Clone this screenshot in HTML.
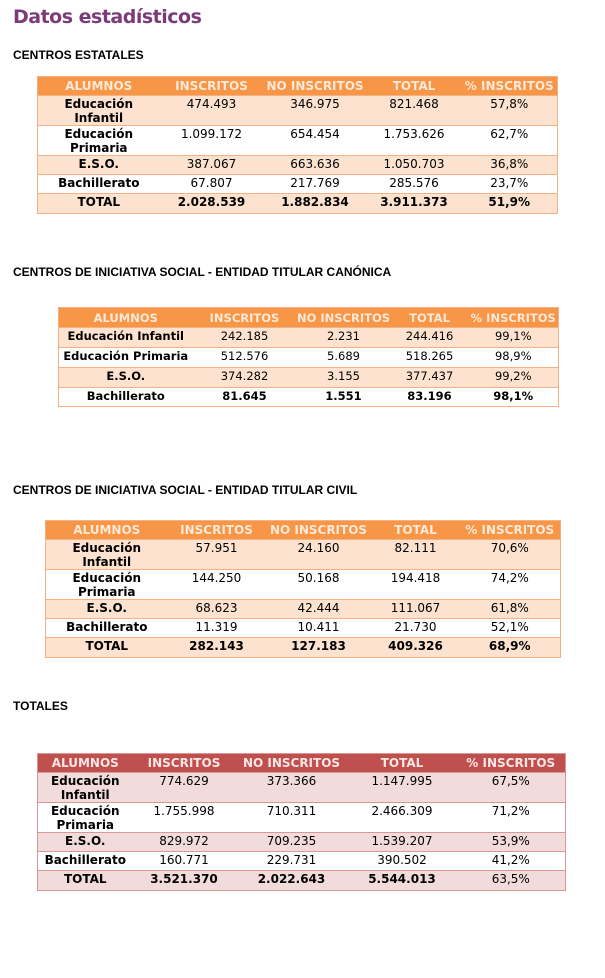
<!DOCTYPE html>
<html><head><meta charset="utf-8"><style>
body{margin:0;width:605px;height:978px;background:#fff;position:relative;font-family:"DejaVu Sans","Liberation Sans",sans-serif;color:#000;overflow:hidden}
.t{position:absolute;margin:0;font-weight:bold}
h1.t{left:13px;top:6px;font-size:19px;color:#7a3b78;font-family:"DejaVu Sans",sans-serif;letter-spacing:-0.5px}
h2.t{left:13px;font-size:12px;font-family:"Liberation Sans",sans-serif;letter-spacing:0}
table{position:absolute;border-collapse:collapse;table-layout:fixed;font-size:12px}
td{text-align:center;vertical-align:top;padding:1px 0 0;line-height:14px;border-top:1px solid #f4b183;overflow:hidden;white-space:nowrap}
table.o{border:1px solid #f4b183}
table.o tr.h td{background:#f79646;color:#fde9d9;font-weight:bold;vertical-align:middle;padding:0}
table.o tr.a td{background:#fde3cf}
table.r{border:1px solid #d99795}
table.r td{border-top:1px solid #d99795}
table.r tr.h td{background:#c0504d;color:#fbe5e5;font-weight:bold;vertical-align:middle;padding:0}
table.r tr.a td{background:#f2dcdb}
td:first-child{font-weight:bold}
.b td{font-weight:bold}
</style></head><body>
<h1 class="t">Datos estadísticos</h1>
<h2 class="t" style="top:48px">CENTROS ESTATALES</h2>
<table class="o" style="left:37px;top:76px;width:520px">
<colgroup><col style="width:122px"><col style="width:104px"><col style="width:103px"><col style="width:95px"><col style="width:96px"></colgroup>
<tr class="h" style="height:19px"><td>ALUMNOS</td><td>INSCRITOS</td><td>NO INSCRITOS</td><td>TOTAL</td><td>% INSCRITOS</td></tr>
<tr class="a" style="height:28px"><td>Educación<br>Infantil</td><td>474.493</td><td>346.975</td><td>821.468</td><td>57,8%</td></tr>
<tr style="height:28px"><td>Educación<br>Primaria</td><td>1.099.172</td><td>654.454</td><td>1.753.626</td><td>62,7%</td></tr>
<tr class="a" style="height:19px"><td>E.S.O.</td><td>387.067</td><td>663.636</td><td>1.050.703</td><td>36,8%</td></tr>
<tr style="height:19px"><td>Bachillerato</td><td>67.807</td><td>217.769</td><td>285.576</td><td>23,7%</td></tr>
<tr class="a b" style="height:20px"><td>TOTAL</td><td>2.028.539</td><td>1.882.834</td><td>3.911.373</td><td>51,9%</td></tr>
</table>
<h2 class="t" style="top:265px">CENTROS DE INICIATIVA SOCIAL - ENTIDAD TITULAR CANÓNICA</h2>
<table class="o" style="left:58px;top:307px;width:500px;font-size:11.5px">
<colgroup><col style="width:134px"><col style="width:104px"><col style="width:94px"><col style="width:78px"><col style="width:90px"></colgroup>
<tr class="h" style="height:20px"><td>ALUMNOS</td><td>INSCRITOS</td><td>NO INSCRITOS</td><td>TOTAL</td><td>% INSCRITOS</td></tr>
<tr class="a" style="height:20px"><td>Educación Infantil</td><td>242.185</td><td>2.231</td><td>244.416</td><td>99,1%</td></tr>
<tr style="height:20px"><td>Educación Primaria</td><td>512.576</td><td>5.689</td><td>518.265</td><td>98,9%</td></tr>
<tr class="a" style="height:20px"><td>E.S.O.</td><td>374.282</td><td>3.155</td><td>377.437</td><td>99,2%</td></tr>
<tr class="b" style="height:19px"><td>Bachillerato</td><td>81.645</td><td>1.551</td><td>83.196</td><td>98,1%</td></tr>
</table>
<h2 class="t" style="top:483px">CENTROS DE INICIATIVA SOCIAL - ENTIDAD TITULAR CIVIL</h2>
<table class="o" style="left:45px;top:520px;width:515px">
<colgroup><col style="width:122px"><col style="width:98px"><col style="width:106px"><col style="width:88px"><col style="width:101px"></colgroup>
<tr class="h" style="height:19px"><td>ALUMNOS</td><td>INSCRITOS</td><td>NO INSCRITOS</td><td>TOTAL</td><td>% INSCRITOS</td></tr>
<tr class="a" style="height:28px"><td>Educación<br>Infantil</td><td>57.951</td><td>24.160</td><td>82.111</td><td>70,6%</td></tr>
<tr style="height:28px"><td>Educación<br>Primaria</td><td>144.250</td><td>50.168</td><td>194.418</td><td>74,2%</td></tr>
<tr class="a" style="height:19px"><td>E.S.O.</td><td>68.623</td><td>42.444</td><td>111.067</td><td>61,8%</td></tr>
<tr style="height:19px"><td>Bachillerato</td><td>11.319</td><td>10.411</td><td>21.730</td><td>52,1%</td></tr>
<tr class="a b" style="height:20px"><td>TOTAL</td><td>282.143</td><td>127.183</td><td>409.326</td><td>68,9%</td></tr>
</table>
<h2 class="t" style="top:699px">TOTALES</h2>
<table class="r" style="left:37px;top:753px;width:528px">
<colgroup><col style="width:95px"><col style="width:103px"><col style="width:112px"><col style="width:109px"><col style="width:109px"></colgroup>
<tr class="h" style="height:19px"><td>ALUMNOS</td><td>INSCRITOS</td><td>NO INSCRITOS</td><td>TOTAL</td><td>% INSCRITOS</td></tr>
<tr class="a" style="height:28px"><td>Educación<br>Infantil</td><td>774.629</td><td>373.366</td><td>1.147.995</td><td>67,5%</td></tr>
<tr style="height:28px"><td>Educación<br>Primaria</td><td>1.755.998</td><td>710.311</td><td>2.466.309</td><td>71,2%</td></tr>
<tr class="a" style="height:19px"><td>E.S.O.</td><td>829.972</td><td>709.235</td><td>1.539.207</td><td>53,9%</td></tr>
<tr style="height:19px"><td>Bachillerato</td><td>160.771</td><td>229.731</td><td>390.502</td><td>41,2%</td></tr>
<tr class="a b" style="height:20px"><td>TOTAL</td><td>3.521.370</td><td>2.022.643</td><td>5.544.013</td><td style="font-weight:normal">63,5%</td></tr>
</table>
</body></html>
